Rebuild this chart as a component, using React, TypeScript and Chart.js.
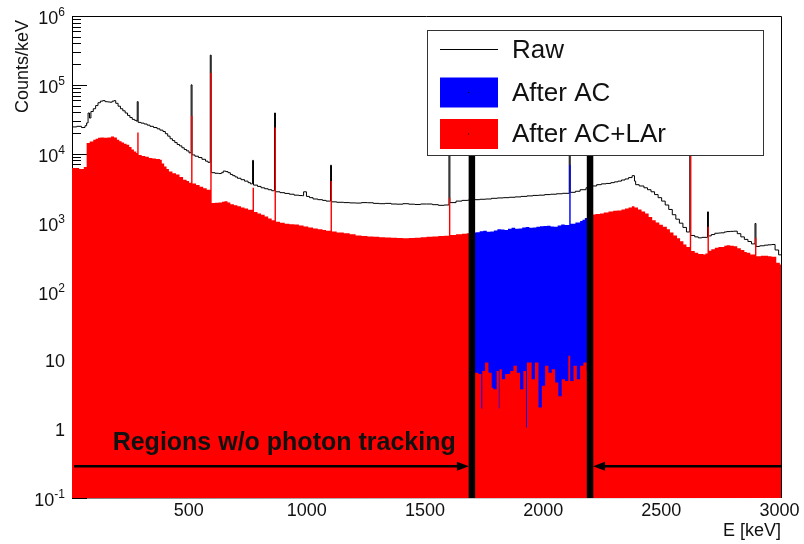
import { useEffect, useRef } from 'react';
import { Chart, registerables } from 'chart.js';

Chart.register(...registerables);

// ---- data: [E (keV, left bin edge), counts/keV] ----
const rawSpectrum: [number, number][] = [
  [0, 2.45e4], [20, 2.5e4], [40, 2.4e4], [55, 2.55e4], [62, 2.8e4], [68, 3.9e4], [74, 3.3e4], [80, 4.1e4],
  [90, 4.5e4], [100, 5.0e4], [110, 5.5e4], [120, 5.8e4], [130, 5.9e4], [140, 5.7e4], [150, 5.65e4], [160, 5.6e4],
  [170, 5.8e4], [178, 5.9e4], [185, 5.4e4], [195, 4.9e4], [205, 4.5e4], [215, 4.2e4], [225, 3.9e4], [235, 3.6e4],
  [245, 3.35e4], [255, 3.15e4], [265, 3.05e4], [274, 2.95e4], [276, 5.7e4], [280, 2.85e4], [292, 2.78e4],
  [305, 2.7e4], [318, 2.6e4], [330, 2.5e4], [345, 2.4e4], [360, 2.3e4], [372, 2.2e4], [385, 2.1e4], [395, 1.95e4],
  [405, 1.8e4], [415, 1.65e4], [425, 1.55e4], [435, 1.45e4], [445, 1.36e4], [455, 1.3e4], [465, 1.22e4],
  [475, 1.15e4], [485, 1.1e4], [495, 1.03e4], [504, 1.0e5], [508, 9.6e3], [520, 9.2e3], [535, 8.8e3], [550, 8.3e3],
  [565, 7.8e3], [575, 7.5e3], [585, 2.7e5], [589, 5.3e3], [605, 5.2e3], [620, 5.15e3], [632, 5.3e3], [640, 5.6e3],
  [650, 5.5e3], [660, 5.3e3], [670, 5.0e3], [680, 4.8e3], [690, 4.6e3], [700, 4.4e3], [715, 4.2e3], [730, 4.0e3],
  [745, 3.8e3], [755, 3.65e3], [764, 8.0e3], [768, 3.5e3], [785, 3.35e3], [800, 3.2e3], [815, 3.1e3], [830, 3.0e3],
  [845, 2.9e3], [857, 3.9e4], [861, 2.8e3], [880, 2.72e3], [900, 2.65e3], [920, 2.58e3], [940, 2.5e3],
  [960, 2.47e3], [975, 2.45e3], [980, 2.8e3], [992, 2.4e3], [1005, 2.3e3], [1020, 2.2e3], [1040, 2.15e3],
  [1060, 2.1e3], [1075, 2.05e3], [1094, 6.8e3], [1098, 2.0e3], [1120, 1.97e3], [1150, 1.95e3], [1175, 1.93e3],
  [1200, 1.92e3], [1225, 1.95e3], [1250, 1.94e3], [1275, 1.9e3], [1300, 1.88e3], [1325, 1.9e3], [1350, 1.86e3],
  [1375, 1.85e3], [1400, 1.88e3], [1425, 1.85e3], [1450, 1.83e3], [1475, 1.86e3], [1500, 1.86e3], [1525, 1.82e3],
  [1550, 1.78e3], [1575, 1.8e3], [1595, 1.3e4], [1599, 1.95e3], [1625, 2.05e3], [1650, 2.1e3], [1675, 2.12e3],
  [1700, 2.15e3], [1725, 2.18e3], [1750, 2.2e3], [1775, 2.25e3], [1800, 2.28e3], [1825, 2.3e3], [1850, 2.33e3],
  [1875, 2.36e3], [1900, 2.4e3], [1925, 2.44e3], [1950, 2.48e3], [1975, 2.5e3], [2000, 2.55e3], [2025, 2.58e3],
  [2050, 2.62e3], [2075, 2.66e3], [2104, 1.5e4], [2108, 2.75e3], [2130, 2.85e3], [2150, 3.0e3], [2175, 3.2e3],
  [2200, 3.4e3], [2220, 3.55e3], [2240, 3.65e3], [2260, 3.7e3], [2280, 3.8e3], [2295, 3.9e3], [2310, 4.0e3],
  [2325, 4.15e3], [2340, 4.3e3], [2355, 4.5e3], [2370, 4.8e3], [2380, 4.0e3], [2385, 3.55e3], [2400, 3.4e3],
  [2420, 3.2e3], [2435, 3.0e3], [2450, 2.8e3], [2465, 2.55e3], [2480, 2.3e3], [2495, 2.05e3], [2510, 1.8e3],
  [2525, 1.55e3], [2540, 1.3e3], [2555, 1.12e3], [2570, 980], [2585, 850], [2600, 730], [2614, 3.0e4],
  [2618, 650], [2635, 620], [2650, 600], [2665, 610], [2689, 1430], [2693, 640], [2705, 670], [2720, 700],
  [2735, 705], [2745, 710], [2760, 730], [2770, 740], [2785, 745], [2800, 750], [2815, 690], [2830, 620],
  [2845, 570], [2860, 530], [2875, 490], [2890, 970], [2894, 450], [2910, 460], [2930, 470], [2945, 475],
  [2960, 480], [2975, 400], [2990, 340], [3000, 340],
];

const afterACSpectrum: [number, number][] = [
  [1680, 700], [1695, 715], [1710, 725], [1725, 745], [1740, 760], [1755, 735], [1770, 740], [1785, 770],
  [1800, 800], [1815, 790], [1830, 780], [1845, 810], [1860, 838], [1875, 815], [1890, 820], [1905, 845],
  [1920, 860], [1935, 840], [1950, 850], [1965, 870], [1980, 884], [1995, 895], [2010, 900], [2025, 880],
  [2040, 870], [2055, 905], [2070, 935], [2085, 920], [2104, 6.9e3], [2110, 960], [2130, 1000], [2150, 1050],
  [2160, 1100], [2170, 1170], [2185, 1200], [2200, 1200],
];

const afterACLArSpectrum: [number, number][] = [
  [0, 6.2e3], [30, 6.0e3], [50, 6.4e3], [62, 1.43e4], [75, 1.5e4], [90, 1.6e4], [100, 1.65e4], [110, 1.7e4],
  [120, 1.72e4], [135, 1.7e4], [150, 1.72e4], [165, 1.78e4], [178, 1.72e4], [190, 1.6e4], [200, 1.52e4],
  [210, 1.45e4], [220, 1.4e4], [231, 1.35e4], [242, 1.25e4], [252, 1.15e4], [262, 1.08e4], [272, 1.02e4],
  [276, 2.04e4], [282, 9.6e3], [295, 9.3e3], [310, 9.0e3], [325, 8.7e3], [340, 8.5e3], [355, 8.4e3], [372, 8.2e3],
  [380, 7.2e3], [390, 6.5e3], [400, 6.0e3], [410, 5.5e3], [425, 5.2e3], [440, 5.0e3], [455, 4.6e3], [470, 4.2e3],
  [485, 4.0e3], [495, 3.8e3], [504, 3.55e4], [510, 3.7e3], [525, 3.5e3], [540, 3.3e3], [555, 3.15e3],
  [570, 3.0e3], [585, 1.5e5], [591, 1.93e3], [605, 1.94e3], [620, 1.95e3], [635, 2.0e3], [645, 2.04e3],
  [658, 1.95e3], [670, 1.85e3], [685, 1.78e3], [700, 1.72e3], [715, 1.66e3], [730, 1.6e3], [745, 1.53e3],
  [764, 3.2e3], [770, 1.42e3], [785, 1.36e3], [800, 1.3e3], [815, 1.22e3], [830, 1.15e3], [845, 1.08e3],
  [857, 2.4e4], [863, 1.03e3], [880, 990], [900, 960], [920, 945], [940, 935], [960, 905], [980, 880],
  [1000, 850], [1020, 820], [1040, 800], [1060, 780], [1075, 760], [1094, 4.0e3], [1100, 740], [1120, 720],
  [1150, 700], [1175, 675], [1200, 650], [1225, 640], [1250, 630], [1275, 620], [1300, 610], [1325, 605],
  [1350, 600], [1375, 595], [1400, 590], [1425, 595], [1450, 600], [1475, 610], [1500, 620], [1525, 630],
  [1550, 640], [1575, 645], [1595, 2.3e3], [1601, 660], [1625, 675], [1650, 690], [1670, 700],
  [1692, 6.6], [1720, 6.3], [1732, 2.0], [1736, 7.0], [1748, 9.3], [1762, 6.6], [1776, 4.0], [1783, 3.8],
  [1797, 7.0], [1806, 2.0], [1809, 7.4], [1819, 5.3], [1833, 6.3], [1854, 7.0], [1868, 8.3], [1882, 6.6],
  [1896, 3.8], [1910, 7.0], [1921, 1.06], [1925, 9.3], [1945, 5.3], [1959, 9.3], [1974, 2.06], [1988, 4.25],
  [2002, 8.3], [2016, 6.6], [2030, 7.4], [2044, 4.75], [2058, 3.0], [2072, 5.3], [2086, 5.0], [2100, 11.6],
  [2108, 5.0], [2122, 8.3], [2136, 5.3], [2150, 8.3], [2164, 9.3], [2178, 7.0],
  [2192, 1.31e3], [2215, 1.33e3], [2234, 1.35e3], [2250, 1.4e3], [2270, 1.45e3], [2290, 1.48e3], [2305, 1.5e3],
  [2325, 1.55e3], [2340, 1.6e3], [2355, 1.66e3], [2369, 1.72e3], [2380, 1.65e3], [2395, 1.55e3], [2410, 1.45e3],
  [2425, 1.35e3], [2440, 1.2e3], [2455, 1.08e3], [2470, 1.0e3], [2485, 930], [2500, 870], [2517, 800],
  [2530, 720], [2545, 650], [2560, 590], [2573, 536], [2587, 480], [2600, 440], [2614, 2.0e4], [2620, 385],
  [2635, 365], [2650, 350], [2672, 344], [2680, 355], [2689, 870], [2695, 390], [2705, 410], [2720, 430],
  [2735, 440], [2745, 440], [2760, 460], [2770, 470], [2785, 460], [2800, 454], [2815, 425], [2830, 400],
  [2845, 375], [2855, 364], [2870, 345], [2890, 600], [2896, 325], [2915, 330], [2930, 330], [2945, 325],
  [2960, 320], [2980, 260], [2995, 246], [3000, 246],
];

const regionEdges = [1692, 2192];        // keV, thick vertical markers
const edgeSpan = [0.1, 2e4];              // counts range of the markers
const xTickValues = [500, 1000, 1500, 2000, 2500, 3000];
const yDecades = [-1, 0, 1, 2, 3, 4, 5, 6];
const arrowLevel = 0.29;                  // counts/keV of annotation arrows
const noteAnchor: [number, number] = [172, 0.49];
const noteText = 'Regions w/o photon tracking';
const legendLabels = ['Raw', 'After AC', 'After AC+LAr'];
const seriesColors = ['#000000', '#0000ff', '#ff0000'];

const FONT = '"Liberation Sans", Arial, Helvetica, sans-serif';
const TXT = '#111';

const toPts = (a: [number, number][]) => a.map(([x, y]) => ({ x, y }));

const rootPlugin = {
  id: 'rootStyle',
  beforeDatasetsDraw(chart: any) {
    const { ctx, chartArea: a, scales } = chart;
    const y = scales.y;
    const x = scales.x;
    ctx.save();
    ctx.strokeStyle = '#000';
    ctx.lineWidth = 1;
    ctx.beginPath();
    ctx.moveTo(a.left + 0.5, a.top);
    ctx.lineTo(a.left + 0.5, a.bottom);
    ctx.lineTo(a.right, a.bottom - 0.5);
    ctx.stroke();
    ctx.beginPath();
    for (const d of yDecades) {
      const py = Math.round(y.getPixelForValue(Math.pow(10, d))) + 0.5;
      ctx.moveTo(a.left, py);
      ctx.lineTo(a.left + 15, py);
      if (d < 6) {
        for (let m = 2; m <= 9; m++) {
          const pm = Math.round(y.getPixelForValue(m * Math.pow(10, d))) + 0.5;
          ctx.moveTo(a.left, pm);
          ctx.lineTo(a.left + 9, pm);
        }
      }
    }
    for (let v = 0; v <= 3000; v += 100) {
      const px = Math.round(x.getPixelForValue(v)) + 0.5;
      ctx.moveTo(px, a.bottom);
      ctx.lineTo(px, a.bottom - (v % 500 === 0 ? 15 : 8));
    }
    ctx.stroke();
    ctx.restore();
  },
  afterDatasetsDraw(chart: any) {
    const { ctx, chartArea: a, scales } = chart;
    const x = scales.x;
    const y = scales.y;
    ctx.save();
    ctx.strokeStyle = '#000';
    ctx.lineWidth = 1;
    ctx.beginPath();
    ctx.moveTo(a.left, a.top + 0.5);
    ctx.lineTo(a.right + 0.5, a.top + 0.5);
    ctx.lineTo(a.right + 0.5, a.bottom);
    ctx.stroke();

    const ay = y.getPixelForValue(arrowLevel);
    const drawArrow = (x1: number, tip: number) => {
      const dir = tip > x1 ? 1 : -1;
      ctx.strokeStyle = '#000';
      ctx.fillStyle = '#000';
      ctx.lineWidth = 2.5;
      ctx.beginPath();
      ctx.moveTo(x1, ay);
      ctx.lineTo(tip - dir * 8, ay);
      ctx.stroke();
      ctx.beginPath();
      ctx.moveTo(tip, ay);
      ctx.lineTo(tip - dir * 12, ay - 4.5);
      ctx.lineTo(tip - dir * 12, ay + 4.5);
      ctx.closePath();
      ctx.fill();
    };
    drawArrow(x.getPixelForValue(0) + 2, x.getPixelForValue(regionEdges[0]) - 3);
    drawArrow(x.getPixelForValue(3000), x.getPixelForValue(regionEdges[1]) + 3);

    ctx.fillStyle = TXT;
    ctx.font = `bold 25px ${FONT}`;
    ctx.textAlign = 'left';
    ctx.textBaseline = 'alphabetic';
    ctx.fillText(noteText, x.getPixelForValue(noteAnchor[0]), y.getPixelForValue(noteAnchor[1]));

    ctx.textBaseline = 'middle';
    ctx.textAlign = 'right';
    const rx = a.left - 7;
    for (const d of yDecades) {
      const py = y.getPixelForValue(Math.pow(10, d));
      if (d === 0 || d === 1) {
        ctx.font = `18px ${FONT}`;
        ctx.fillText(d === 0 ? '1' : '10', rx, py + 2);
      } else {
        const ex = String(d);
        ctx.font = `12px ${FONT}`;
        const w = ctx.measureText(ex).width;
        ctx.fillText(ex, rx, py - 3);
        ctx.font = `18px ${FONT}`;
        ctx.fillText('10', rx - w, py + 3.5);
      }
    }
    ctx.textAlign = 'center';
    ctx.font = `18px ${FONT}`;
    for (const v of xTickValues) {
      ctx.fillText(String(v), x.getPixelForValue(v) - 1.5, a.bottom + 13);
    }
    ctx.textAlign = 'right';
    ctx.fillText('E [keV]', a.right, a.bottom + 33.5);
    ctx.save();
    ctx.translate(23, a.top + 4);
    ctx.rotate(-Math.PI / 2);
    ctx.textAlign = 'right';
    ctx.textBaseline = 'middle';
    ctx.fillText('Counts/keV', 0, 0);
    ctx.restore();
    ctx.restore();
  },
  afterDraw(chart: any) {
    const { ctx, chartArea: a } = chart;
    const L = a.left + 355;
    const T = a.top + 14;
    const W = 336;
    const H = 125;
    ctx.save();
    ctx.fillStyle = '#fff';
    ctx.fillRect(L, T, W, H);
    ctx.strokeStyle = '#333';
    ctx.lineWidth = 1;
    ctx.strokeRect(L + 0.5, T + 0.5, W, H);
    const rowY = [T + 20, T + 62.5, T + 104];
    ctx.font = `26px ${FONT}`;
    ctx.textAlign = 'left';
    ctx.textBaseline = 'middle';
    legendLabels.forEach((lab, i) => {
      const cy = rowY[i];
      if (i === 0) {
        ctx.strokeStyle = seriesColors[0];
        ctx.lineWidth = 1;
        ctx.beginPath();
        ctx.moveTo(L + 13, Math.round(cy) - 0.5);
        ctx.lineTo(L + 71, Math.round(cy) - 0.5);
        ctx.stroke();
      } else {
        ctx.fillStyle = seriesColors[i];
        ctx.fillRect(L + 13, cy - 15, 58, 30);
        ctx.fillStyle = '#000';
        ctx.fillRect(L + 41, cy - 0.5, 1, 1);
      }
      ctx.fillStyle = TXT;
      ctx.fillText(lab, L + 85, cy + 1);
    });
    ctx.restore();
  },
};

export default function App() {
  const ref = useRef<HTMLCanvasElement>(null);
  useEffect(() => {
    if (!ref.current) return;
    const common = { stepped: true as const, pointRadius: 0, tension: 0 };
    const chart = new Chart(ref.current, {
      type: 'line',
      data: {
        datasets: [
          ...regionEdges.map((e, i) => ({
            label: 'edge' + i,
            data: edgeSpan.map((v) => ({ x: e, y: v })),
            borderColor: '#000',
            borderWidth: 6.5,
            pointRadius: 0,
            fill: false,
            order: 0,
          })),
          {
            label: legendLabels[2],
            data: toPts(afterACLArSpectrum),
            ...common,
            fill: 'start',
            backgroundColor: seriesColors[2],
            borderColor: 'rgba(255,0,0,0)',
            borderWidth: 1,
            order: 1,
          },
          {
            label: legendLabels[1],
            data: toPts(afterACSpectrum),
            ...common,
            fill: 'start',
            backgroundColor: seriesColors[1],
            borderColor: 'rgba(0,0,255,0)',
            borderWidth: 1,
            order: 2,
          },
          {
            label: legendLabels[0],
            data: toPts(rawSpectrum),
            ...common,
            fill: false,
            borderColor: seriesColors[0],
            borderWidth: 1,
            order: 3,
          },
        ] as any,
      },
      options: {
        responsive: false,
        devicePixelRatio: 1,
        animation: false,
        events: [],
        layout: { padding: { left: 72, right: 23, top: 16, bottom: 46 } },
        scales: {
          x: { type: 'linear', min: 0, max: 3000, display: false },
          y: { type: 'logarithmic', min: 0.1, max: 1e6, display: false },
        },
        plugins: { legend: { display: false }, tooltip: { enabled: false } },
      },
      plugins: [rootPlugin],
    });
    return () => chart.destroy();
  }, []);
  return (
    <div style={{ position: 'absolute', left: 0, top: 0, width: 804, height: 544, background: '#fff' }}>
      <canvas ref={ref} width={804} height={544} style={{ display: 'block', width: 804, height: 544 }} />
    </div>
  );
}
